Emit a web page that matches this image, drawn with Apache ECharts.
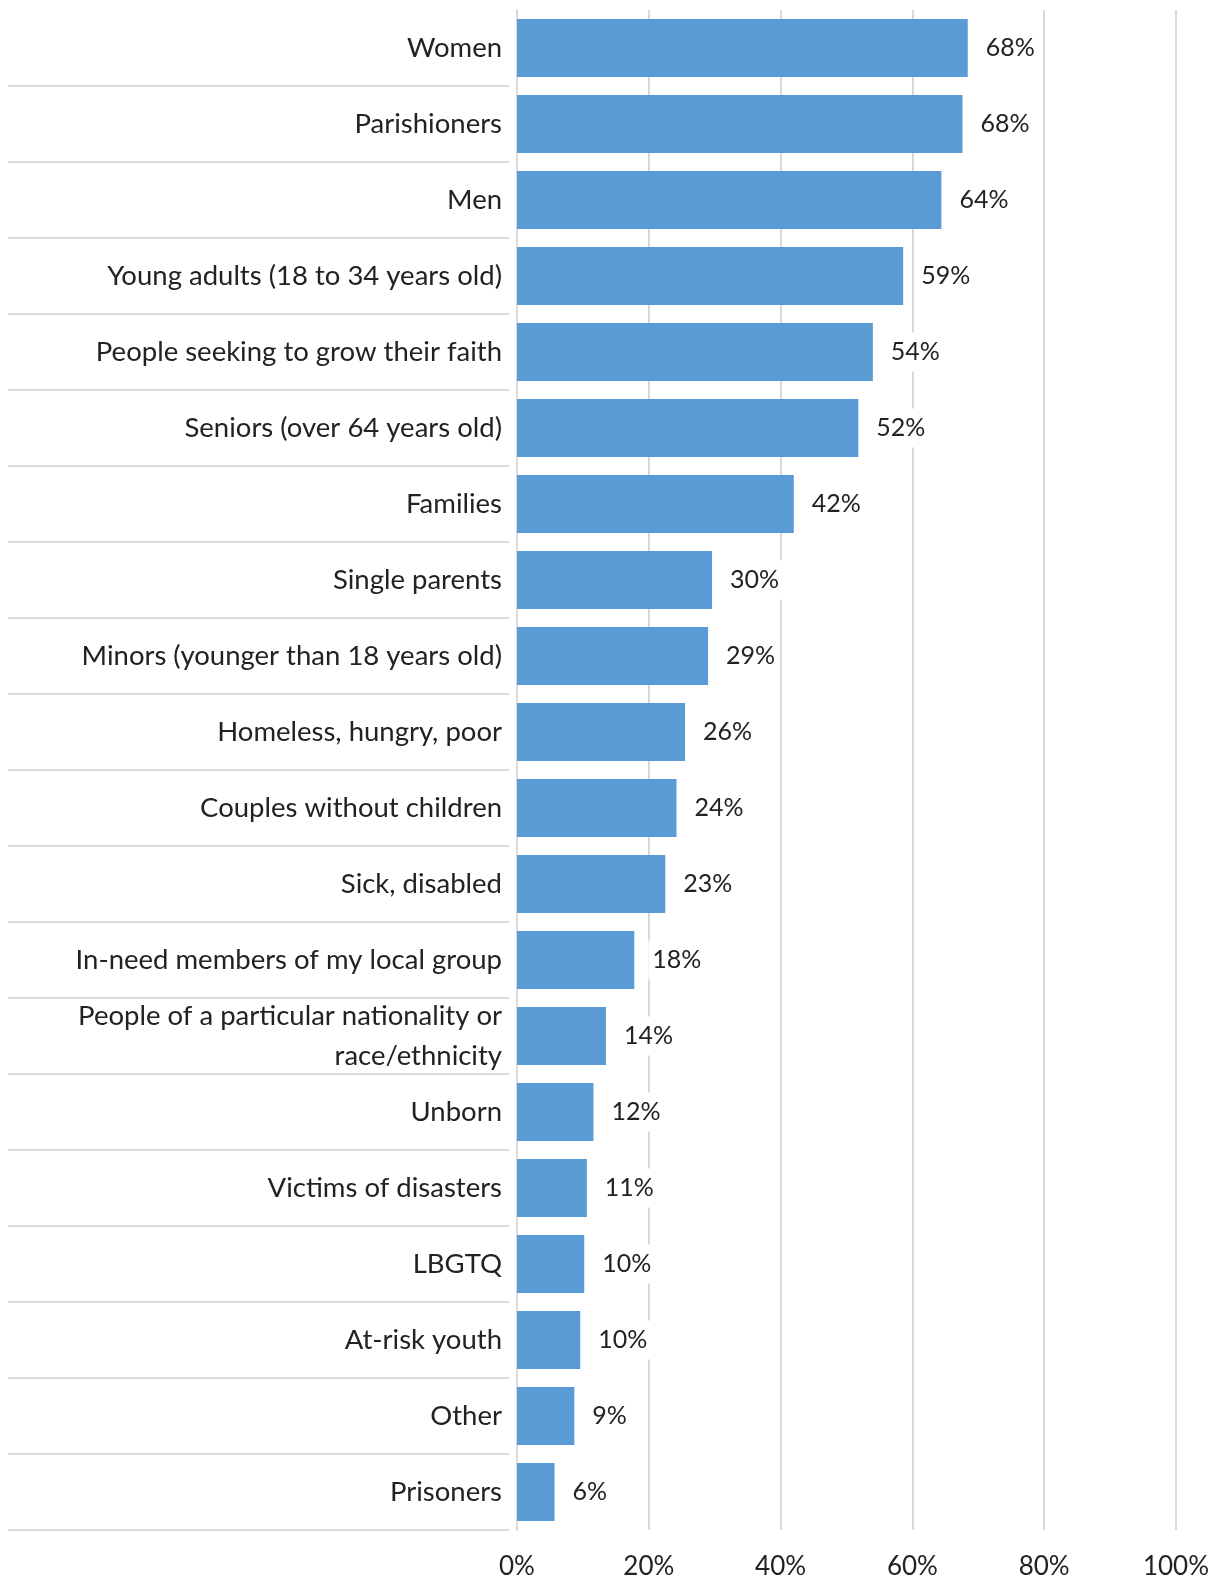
<!DOCTYPE html>
<html>
<head>
<meta charset="utf-8">
<script src="https://cdn.jsdelivr.net/npm/echarts@6/dist/echarts.min.js"></script>
<style>
  html, body { margin: 0; padding: 0; background: #fff; }
  #chart { width: 1225px; height: 1581px; }
</style>
</head>
<body>
<div id="chart"></div>
<script>
var categories = [
  'Women',
  'Parishioners',
  'Men',
  'Young adults (18 to 34 years old)',
  'People seeking to grow their faith',
  'Seniors (over 64 years old)',
  'Families',
  'Single parents',
  'Minors (younger than 18 years old)',
  'Homeless, hungry, poor',
  'Couples without children',
  'Sick, disabled',
  'In-need members of my local group',
  'People of a particular nationality or\nrace/ethnicity',
  'Unborn',
  'Victims of disasters',
  'LBGTQ',
  'At-risk youth',
  'Other',
  'Prisoners'
];

// bar lengths (percent)
var values = [68.4, 67.6, 64.4, 58.6, 54.0, 51.8, 42.0, 29.6, 29.0, 25.5,
              24.2, 22.5, 17.8, 13.5, 11.6, 10.6, 10.2, 9.6, 8.7, 5.7];

var xTicks = [0, 20, 40, 60, 80, 100];

var textColor = '#222';
var font = 'Lato';
var gridColor = '#d9d9d9';

var chart = echarts.init(document.getElementById('chart'));

var option = {
  animation: false,
  backgroundColor: '#fff',
  grid: { left: 517, right: 49, top: 10, bottom: 51 },
  xAxis: {
    type: 'value',
    min: xTicks[0],
    max: xTicks[xTicks.length - 1],
    interval: xTicks[1] - xTicks[0],
    axisLine: { show: false },
    axisTick: { show: false },
    splitLine: { lineStyle: { color: gridColor, width: 2 } },
    axisLabel: {
      margin: 24,
      color: textColor,
      fontFamily: font,
      fontSize: 26,
      formatter: '{value}%'
    }
  },
  yAxis: [
    {
      type: 'category',
      data: categories,
      inverse: true,
      axisLine: { show: true, lineStyle: { color: gridColor, width: 2 } },
      axisTick: { show: false },
      axisLabel: {
        margin: 15,
        color: textColor,
        fontFamily: font,
        fontSize: 27.5,
        lineHeight: 40,
        align: 'right',
        padding: [14, 0, 0, 0]
      }
    },
    {
      // separators between categories in the label area
      type: 'category',
      data: categories,
      inverse: true,
      position: 'left',
      offset: 8,
      axisLine: { show: false },
      axisLabel: { show: false },
      axisTick: {
        show: true,
        length: 501,
        interval: function (index) { return index !== 0; },
        lineStyle: { color: gridColor, width: 2 }
      }
    }
  ],
  series: [
    {
      type: 'bar',
      yAxisIndex: 0,
      data: values,
      barCategoryGap: '24%',
      itemStyle: { color: '#5b9bd5' },
      label: {
        show: true,
        position: 'right',
        distance: 14,
        color: textColor,
        fontFamily: font,
        fontSize: 25,
        backgroundColor: '#fff',
        padding: [10, 4, 4, 4],
        formatter: function (p) { return Math.round(p.value) + '%'; }
      }
    }
  ]
};

chart.setOption(option);
</script>
</body>
</html>
